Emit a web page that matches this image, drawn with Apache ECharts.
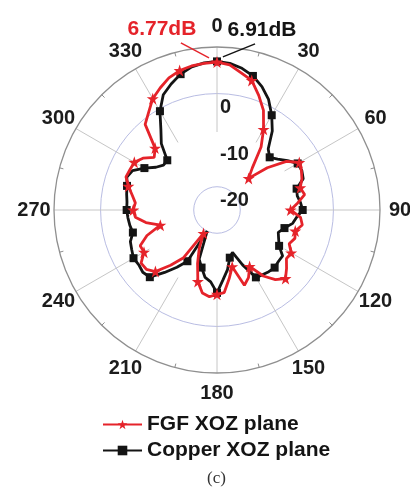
<!DOCTYPE html>
<html>
<head>
<meta charset="utf-8">
<script src="https://cdn.jsdelivr.net/npm/echarts@6/dist/echarts.min.js"></script>
<style>
  html, body { margin: 0; padding: 0; background: #ffffff; }
  #chart { width: 410px; height: 496px; }
</style>
</head>
<body>
<div id="chart"></div>
<script>
// Sampled angles (degrees, clockwise from top)
const angles = [
  0, 5, 10, 15, 20, 25, 30, 35, 40, 45, 50, 55,
  60, 65, 70, 75, 80, 85, 90, 95, 100, 105, 110, 115,
  120, 125, 130, 135, 140, 145, 150, 155, 160, 165, 170, 175,
  180, 185, 190, 195, 200, 205, 210, 215, 220, 225, 230, 235,
  240, 245, 250, 255, 260, 265, 270, 275, 280, 285, 290, 295,
  300, 305, 310, 315, 320, 325, 330, 335, 340, 345, 350, 355
];

// FGF antenna gain, XOZ plane (dB)
const fgfGain = [
  6.77, 6.3, 4.9, 3.8, 1.2, -1.4, -5.0, -8.5, -13.2, -15.4, -10.9, -6.8,
  -4.6, -5.0, -5.6, -6.5, -5.9, -7.6, -9.2, -7.0, -6.4, -7.6, -7.2, -7.9,
  -6.6, -6.8, -5.5, -4.2, -5.5, -7.7, -11.0, -9.0, -7.8, -12.4, -10.0, -7.2,
  -6.9, -6.3, -6.9, -9.1, -12.8, -16.0, -19.2, -12.5, -9.5, -6.3, -5.2, -5.1,
  -6.9, -6.8, -9.0, -12.4, -9.5, -7.4, -7.0, -7.4, -6.5, -5.3, -4.2, -4.4,
  -4.5, -5.6, -7.4, -6.2, -1.0, 0.6, 2.6, 3.9, 5.2, 6.0, 6.4, 6.6
];

// Copper antenna gain, XOZ plane (dB)
const copperGain = [
  6.91, 6.6, 5.9, 4.8, 3.2, 1.2, -1.5, -4.3, -7.9, -9.0, -8.0, -6.5,
  -5.0, -4.9, -5.3, -7.3, -7.5, -7.0, -6.6, -7.8, -8.5, -10.0, -11.0, -10.4,
  -9.6, -7.8, -7.8, -7.5, -7.7, -8.0, -8.3, -12.0, -15.3, -14.4, -12.0, -10.0,
  -7.2, -9.5, -10.3, -12.2, -13.8, -20.0, -12.3, -10.0, -7.5, -4.6, -4.2, -4.5,
  -4.3, -4.8, -5.2, -6.3, -6.0, -5.8, -5.6, -5.6, -5.3, -5.0, -4.4, -5.0,
  -7.0, -9.0, -10.0, -9.9, -6.4, -4.0, -0.5, 2.3, 3.8, 5.2, 6.2, 6.7
];

// Angle tick labels and labelled gain rings
const angleTicks = [0, 30, 60, 90, 120, 150, 180, 210, 240, 270, 300, 330];
const ringLabels = [-20, -10, 0];

// Peak annotations: [gain at arrow tip, angle], [gain at tail, angle]
const fgfPeakText = '6.77dB';
const fgfPeakArrow = [[7.7, 357], [11.7, 347.8]];
const copperPeakText = '6.91dB';
const copperPeakArrow = [[7.9, 2.2], [11.6, 12.9]];

const FONT = '"Liberation Sans", Arial, sans-serif';
const RED = '#e5232a';
const BLACK = '#141414';
const STAR = 'path://M50,0 L61.8,35.1 L98.9,35.1 L68.9,57.4 L80.3,92.7 L50,71 L19.7,92.7 L31.1,57.4 L1.1,35.1 L38.2,35.1 Z';

// Gain scale: -25 dB at the centre, 10 dB at the rim (163 px).
const CENTER = [217, 210];
const RIM = 163;
const GAIN_MIN = -25, GAIN_MAX = 10;
// The plotting polar extends past the rim (same px/dB) so annotations and
// angle labels can sit outside the 10 dB circle.
const PLOT_MAX = 15;
const PLOT_RADIUS = RIM * (PLOT_MAX - GAIN_MIN) / (GAIN_MAX - GAIN_MIN);
const LABEL_RADIUS = 14.3; // gain value where the angle labels sit

function closedLoop(values, marker) {
  const pts = angles.map((a, i) => ({
    value: [values[i], a],
    symbol: a % 15 === 0 ? marker : 'none'
  }));
  pts.push({ value: [values[0], 360], symbol: 'none' });
  return pts;
}

function peakArrow(points, text, color, offset) {
  return points.map((p, i) => i === 0
    ? { value: p, symbol: 'none' }
    : {
        value: p,
        symbol: 'circle',
        symbolSize: 1,
        itemStyle: { color: 'rgba(0,0,0,0)' },
        label: {
          show: true, position: 'top', distance: 3, offset: offset,
          formatter: text, color: color,
          fontFamily: FONT, fontSize: 21, fontWeight: 'bold'
        }
      });
}

// ring colours per radius tick (-25 .. 10 step 5): only -20 and 0 are drawn here
const CLEAR = 'rgba(0,0,0,0)';
const ringColors = [CLEAR, '#b9bde3', CLEAR, CLEAR, CLEAR, '#b9bde3', CLEAR, CLEAR];

const chart = echarts.init(document.getElementById('chart'), null, { renderer: 'canvas' });

chart.setOption({
  backgroundColor: '#ffffff',
  animation: false,
  polar: [
    { center: CENTER, radius: [0, RIM] },          // rim, rings, ring labels
    { center: CENTER, radius: [78, RIM] },         // spokes
    { center: CENTER, radius: [0, PLOT_RADIUS] }   // plotted data
  ],
  angleAxis: [
    {
      polarIndex: 0, type: 'value', min: 0, max: 360, interval: 30,
      startAngle: 90, clockwise: true,
      axisLine: { show: true, lineStyle: { color: '#8f8f8f', width: 1.3 } },
      axisTick: { show: false, inside: true },
      minorTick: { show: true, splitNumber: 2, length: 4, lineStyle: { color: '#8f8f8f', width: 1 } },
      splitLine: { show: false },
      axisLabel: { show: false }
    },
    {
      polarIndex: 1, type: 'value', min: 0, max: 360, interval: 30,
      startAngle: 90, clockwise: true,
      axisLine: { show: false },
      axisTick: { show: false },
      splitLine: { show: true, lineStyle: { color: '#c6c6c6', width: 1 } },
      axisLabel: { show: false }
    },
    {
      polarIndex: 2, type: 'value', min: 0, max: 360,
      startAngle: 90, clockwise: true, show: false
    }
  ],
  radiusAxis: [
    {
      polarIndex: 0, type: 'value', min: GAIN_MIN, max: GAIN_MAX, interval: 5,
      axisLine: { show: false },
      axisTick: { show: false },
      splitLine: { show: true, lineStyle: { color: ringColors, width: 1 } },
      axisLabel: {
        show: true, margin: -3, align: 'left', verticalAlign: 'top',
        padding: [4, 0, 0, 0],
        fontFamily: FONT, fontSize: 20, fontWeight: 'bold', color: '#1c1c1c',
        formatter: v => ringLabels.indexOf(v) >= 0 ? String(v) : ''
      }
    },
    { polarIndex: 1, type: 'value', min: 0, max: 1, show: false },
    { polarIndex: 2, type: 'value', min: GAIN_MIN, max: PLOT_MAX, show: false }
  ],
  legend: {
    data: ['FGF XOZ plane', 'Copper XOZ plane'],
    orient: 'vertical', left: 97, top: 409,
    itemGap: 5, itemWidth: 39, itemHeight: 12,
    textStyle: { fontFamily: FONT, fontSize: 21, fontWeight: 'bold', color: '#141414' }
  },
  graphic: [
    {
      type: 'text', left: 207, top: 470,
      style: { text: '(c)', fontFamily: '"Liberation Serif", "Times New Roman", serif', fontSize: 17, fill: '#333' }
    }
  ],
  series: [
    {
      name: 'FGF XOZ plane', type: 'line', coordinateSystem: 'polar', polarIndex: 2,
      symbol: STAR, symbolSize: 12, showAllSymbol: true, z: 4,
      lineStyle: { color: RED, width: 2.8 },
      itemStyle: { color: RED },
      data: closedLoop(fgfGain, STAR)
    },
    {
      name: 'Copper XOZ plane', type: 'line', coordinateSystem: 'polar', polarIndex: 2,
      symbol: 'rect', symbolSize: 8, showAllSymbol: true, z: 3,
      lineStyle: { color: BLACK, width: 2.8 },
      itemStyle: { color: BLACK },
      data: closedLoop(copperGain, 'rect')
    },
    {
      name: 'fgf-peak', type: 'line', coordinateSystem: 'polar', polarIndex: 2,
      silent: true, z: 5, showAllSymbol: true,
      lineStyle: { color: RED, width: 1.5 },
      data: peakArrow(fgfPeakArrow, fgfPeakText, RED, [-19, 0])
    },
    {
      name: 'copper-peak', type: 'line', coordinateSystem: 'polar', polarIndex: 2,
      silent: true, z: 5, showAllSymbol: true,
      lineStyle: { color: BLACK, width: 1.5 },
      data: peakArrow(copperPeakArrow, copperPeakText, BLACK, [7, 0])
    },
    {
      name: 'angle-labels', type: 'scatter', coordinateSystem: 'polar', polarIndex: 2,
      silent: true, symbolSize: 2,
      itemStyle: { color: CLEAR, opacity: 1 },
      emphasis: { disabled: true },
      label: {
        show: true, position: 'inside', opacity: 1,
        fontFamily: FONT, fontSize: 20, fontWeight: 'bold', color: '#1c1c1c',
        formatter: p => String(p.value[1])
      },
      data: angleTicks.map(a => [LABEL_RADIUS, a])
    }
  ]
});
</script>
</body>
</html>
